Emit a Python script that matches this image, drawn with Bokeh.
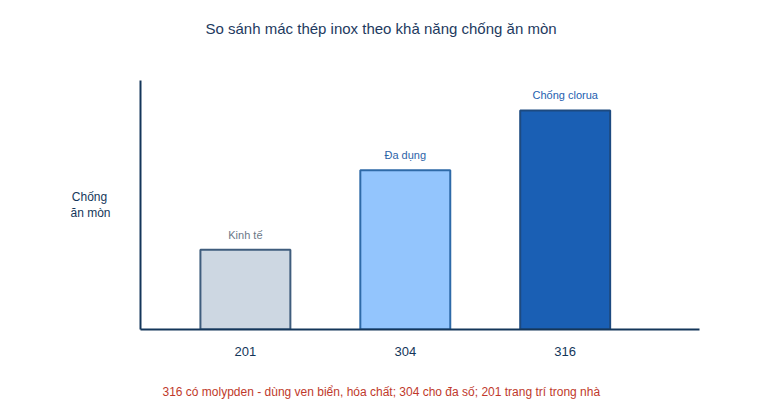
from bokeh.core.properties import value
from bokeh.embed import file_html
from bokeh.models import ColumnDataSource, FixedTicker, Range1d, Title
from bokeh.plotting import figure
from bokeh.resources import INLINE

# steel grades, relative corrosion resistance (no scale shown)
grades = ["201", "304", "316"]
positions = [1, 2, 3]
resistance = [32, 64, 88]
notes = ["Kinh tế", "Đa dụng", "Chống clorua"]
fills = ["#cdd7e2", "#93c5fd", "#1a5fb4"]
outlines = ["#3f5d7d", "#2e6aa8", "#1d4a80"]
note_colors = ["#6b7888", "#2d64a8", "#2360b0"]

FONT = "Liberation Sans"
NAVY = "#14365a"

src = ColumnDataSource(dict(x=positions, top=resistance, note=notes,
                            fill=fills, line=outlines, ncol=note_colors))

p = figure(width=752, height=412, output_backend="svg", toolbar_location=None,
           x_range=Range1d(0.344, 3.84), y_range=Range1d(0, 100),
           min_border_left=140, min_border_right=53, min_border_top=80,
           min_border_bottom=83)
p.outline_line_color = None
p.grid.visible = False

p.vbar(x="x", top="top", width=0.5625, bottom=0, source=src,
       fill_color="fill", line_color="line", line_width=2)
p.text(x="x", y="top", text="note", source=src, y_offset=-9,
       text_align="center", text_baseline="bottom", text_color="ncol",
       text_font=value(FONT), text_font_size="11px")

xa = p.xaxis[0]
xa.ticker = FixedTicker(ticks=positions)
xa.major_label_overrides = {pos: g for pos, g in zip(positions, grades)}
xa.major_tick_line_color = None
xa.minor_tick_line_color = None
xa.axis_line_color = NAVY
xa.axis_line_width = 2
xa.major_label_standoff = 11
xa.major_label_text_font = FONT
xa.major_label_text_font_size = "13px"
xa.major_label_text_color = NAVY

ya = p.yaxis[0]
ya.ticker = FixedTicker(ticks=[])
ya.major_tick_line_color = None
ya.minor_tick_line_color = None
ya.major_label_text_font_size = "0px"
ya.axis_line_color = NAVY
ya.axis_line_width = 2
# trailing nbsp keeps the two lines roughly left-aligned
ya.axis_label = "Chống\u00a0\năn mòn"
ya.axis_label_orientation = "horizontal"
ya.axis_label_standoff = 30
ya.axis_label_text_font = FONT
ya.axis_label_text_font_style = "normal"
ya.axis_label_text_font_size = "12px"
ya.axis_label_text_color = NAVY

# blank spacer titles push the real title / note away from the frame
p.add_layout(Title(text=" ", standoff=25, text_font_size="15px"), "above")
p.add_layout(Title(text="So sánh mác thép inox theo khả năng chống ăn mòn",
                   align="left", offset=65, standoff=0,
                   text_font=FONT, text_font_size="15px",
                   text_font_style="normal", text_color="#1e3a60"), "above")
p.add_layout(Title(text=" ", standoff=8, text_font_size="12px"), "below")
p.add_layout(Title(text="316 có molypden - dùng ven biển, hóa chất; 304 cho đa số; 201 trang trí trong nhà",
                   align="left", offset=22, standoff=0,
                   text_font=FONT, text_font_size="12px",
                   text_font_style="normal", text_color="#c0392b"), "below")

open("out.html", "w").write(file_html(p, INLINE))
